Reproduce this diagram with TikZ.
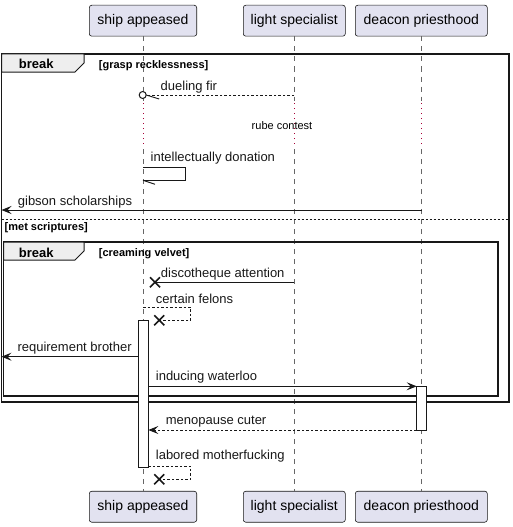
\documentclass[tikz,border=0pt]{standalone}
\usepackage{fontspec}
\setmainfont{Liberation Sans}
\usetikzlibrary{arrows.meta}
\definecolor{partfill}{HTML}{E2E2F0}
\definecolor{linec}{HTML}{181818}
\definecolor{lifec}{HTML}{666666}
\definecolor{tabfill}{HTML}{EEEEEE}
\definecolor{delayc}{HTML}{A80036}
\begin{document}
\begin{tikzpicture}[x=1pt,y=-1pt,
  part/.style={draw=linec, fill=partfill, rounded corners=2.5pt, line width=0.6pt,
    minimum height=31pt, inner sep=0pt, font=\fontsize{14}{16}\selectfont},
  life/.style={draw=lifec, line width=0.6pt, dash pattern=on 5pt off 5pt},
  delayline/.style={draw=delayc, line width=0.8pt, dash pattern=on 1pt off 4pt},
  msg/.style={draw=linec, line width=0.9pt},
  rmsg/.style={msg, dash pattern=on 2.5pt off 2pt},
  tip/.style={-{Stealth[length=10pt,width=8pt,inset=4pt]}},
  lbl/.style={anchor=base west, inner sep=0pt, font=\fontsize{13}{15}\selectfont, text=linec},
  framebox/.style={draw=linec, line width=1.5pt},
  tab/.style={draw=linec, line width=1pt, fill=tabfill},
  tablbl/.style={anchor=base west, inner sep=0pt, font=\fontsize{13}{15}\selectfont\bfseries},
  cond/.style={anchor=base west, inner sep=0pt, font=\fontsize{11}{13}\selectfont\bfseries},
  act/.style={draw=linec, fill=white, line width=1pt},
  xmark/.style={draw=linec, line width=1.6pt}
]
\useasboundingbox (0,0) rectangle (513,527);

% participants
\node[part, minimum width=107.4pt] (sa-top) at (143,20.7) {ship appeased};
\node[part, minimum width=102pt] (ls-top) at (294.3,20.7) {light specialist};
\node[part, minimum width=132pt] (dp-top) at (421.3,20.7) {deacon priesthood};
\node[part, minimum width=107.4pt] (sa-bot) at (143,506.7) {ship appeased};
\node[part, minimum width=102pt] (ls-bot) at (294.3,506.7) {light specialist};
\node[part, minimum width=132pt] (dp-bot) at (421.3,506.7) {deacon priesthood};

% lifelines
\foreach \p in {sa,ls,dp}{
  \draw[life] (\p-top.south) -- (\p-top.south |- 0,101);
  \draw[delayline] (\p-top.south |- 0,103) -- (\p-top.south |- 0,146);
  \draw[life] (\p-top.south |- 0,149) -- (\p-bot.north);
}

% outer frame
\draw[framebox] (1.5,54) rectangle (509,402);
\draw[tab] (1.5,54) -- (84,54) -- (84,63) -- (75,72) -- (1.5,72) -- cycle;
\node[tablbl] (brk1) at (18.7,69) {break};
\node[cond] (c1) at (98.7,68) {[grasp recklessness]};
\draw[draw=linec, line width=0.8pt, dash pattern=on 2pt off 2pt] (1.5,219) coordinate (sepl) -- (509,219) coordinate (sepr);
\node[cond] (c2) at (4.5,230.5) {[met scriptures]};

% inner frame
\draw[framebox] (3.5,242) rectangle (498,396);
\draw[tab] (3.5,242) -- (84,242) -- (84,251) -- (75,260) -- (3.5,260) -- cycle;
\node[tablbl] (brk2) at (18.7,257) {break};
\node[cond] (c3) at (98.7,256) {[creaming velvet]};

% 1 dueling fir (lost-circle, half arrow)
\coordinate (m1s) at (294.3,95);
\coordinate (m1c) at (142.7,95);
\draw[rmsg] (m1s) -- ([xshift=3.5pt]m1c);
\draw[msg] ([xshift=3.5pt]m1c) -- ++(13,4);
\draw[draw=linec, fill=white, line width=1pt] (m1c) circle (3.5pt);
\node[lbl] (l1) at (160.5,90.3) {dueling fir};

% delay text
\node[inner sep=0pt, anchor=base, font=\fontsize{11}{13}\selectfont] (delay) at (282,129) {rube contest};

% 2 intellectually donation (self)
\coordinate (m2s) at (143,167.3);
\coordinate (m2e) at (143,180.3);
\draw[msg] (m2s) -- (185.3,167.3) -- (185.3,180.3) -- (m2e);
\draw[msg] (m2e) -- ++(12,4);
\node[lbl] (l2) at (150.5,161.3) {intellectually donation};

% 3 gibson scholarships
\coordinate (m3s) at (421.7,210);
\coordinate (m3e) at (1.5,210);
\draw[msg, tip] (m3s) -- (m3e);
\node[lbl] (l3) at (17.7,205.3) {gibson scholarships};

% 4 discotheque attention
\coordinate (m4s) at (294.3,282.3);
\coordinate (m4e) at (155,282.3);
\draw[msg] (m4s) -- (m4e);
\draw[xmark] ([shift={(-5,-5)}]m4e) -- ([shift={(5,5)}]m4e) ([shift={(-5,5)}]m4e) -- ([shift={(5,-5)}]m4e);
\node[lbl] (l4) at (160.7,277.5) {discotheque attention};

% activation ship
\draw[act] (138.7,320.3) rectangle (148.3,467.3);
\coordinate (saL) at (138.7,356.7);
\coordinate (saR1) at (148.3,386.3);
\coordinate (saR2) at (148.3,430);
\coordinate (saR3) at (148.3,466.3);

% 5 certain felons (self, destroy)
\coordinate (m5s) at (143,307.3);
\coordinate (m5e) at (159.3,320.3);
\draw[rmsg] (m5s) -- (190.7,307.3) -- (190.7,320.3) -- (m5e);
\draw[xmark] ([shift={(-5,-5)}]m5e) -- ([shift={(5,5)}]m5e) ([shift={(-5,5)}]m5e) -- ([shift={(5,-5)}]m5e);
\node[lbl] (l5) at (155.7,303) {certain felons};
\draw[act] (138.7,320.3) rectangle (148.3,467.3);

% 6 requirement brother
\coordinate (m6e) at (1.5,356.7);
\draw[msg, tip] (saL) -- (m6e);
\node[lbl] (l6) at (17.3,351.7) {requirement brother};

% deacon activation
\draw[act] (416.7,386.3) rectangle (426.7,430);
\coordinate (dpL1) at (416.7,386.3);
\coordinate (dpL2) at (416.7,430);

% 7 inducing waterloo
\draw[msg, tip] (saR1) -- (dpL1);
\node[lbl] (l7) at (155.7,380.7) {inducing waterloo};

% 8 menopause cuter
\draw[rmsg, tip] (dpL2) -- (saR2);
\node[lbl] (l8) at (165.7,424.5) {menopause cuter};

% 9 labored motherfucking
\coordinate (m9e) at (159.3,479.3);
\draw[rmsg] (saR3) -- (190.7,466.3) -- (190.7,479.3) -- (m9e);
\draw[xmark] ([shift={(-5,-5)}]m9e) -- ([shift={(5,5)}]m9e) ([shift={(-5,5)}]m9e) -- ([shift={(5,-5)}]m9e);
\node[lbl] (l9) at (155.7,459.3) {labored motherfucking};
\end{tikzpicture}
\end{document}
